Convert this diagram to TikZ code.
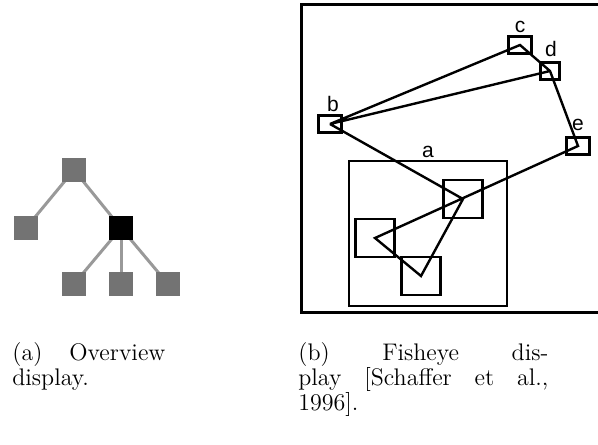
\documentclass[tikz,border=0pt]{standalone}
\usepackage{fontspec}
\usetikzlibrary{backgrounds}
\newfontfamily\labelfont{Liberation Sans}

\begin{document}
\begin{tikzpicture}[x=0.5pt,y=-0.5pt]
        \tikzstyle{every node}=[font=\fontsize{12}{12.5}\selectfont]
        \tikzstyle{treenode}=[draw=none,fill=black!55,minimum size=12pt,inner sep=0pt]
        \tikzstyle{treeedge}=[draw=black!40,line width=1.5pt]
        \tikzstyle{smallbox}=[draw,line width=1.2pt,minimum width=11.5pt,minimum height=8.5pt,inner sep=0pt]
        \tikzstyle{bigbox}=[draw,line width=1.2pt,minimum width=19.5pt,minimum height=19pt,inner sep=0pt]
        \tikzstyle{boxlabel}=[font=\labelfont\fontsize{10.5}{10.5}\selectfont,inner sep=0pt]
        \tikzstyle{fishline}=[line width=1.2pt,line join=miter]
        \useasboundingbox (0,0) rectangle (598,444);

        % (a) overview
        \node[treenode] (root) at (74,170) {};
        \node[treenode] (left) at (26,228) {};
        \node[treenode,fill=black] (focus) at (121,228) {};
        \node[treenode] (leafa) at (74,284) {};
        \node[treenode] (leafb) at (121,284) {};
        \node[treenode] (leafc) at (168,284) {};
        \begin{pgfonlayer}{background}
            \draw[treeedge] (root.center) -- (left.center);
            \draw[treeedge] (root.center) -- (focus.center);
            \draw[treeedge] (focus.center) -- (leafa.center);
            \draw[treeedge] (focus.center) -- (leafb.center);
            \draw[treeedge] (focus.center) -- (leafc.center);
        \end{pgfonlayer}

        % (b) fisheye
        \draw[line width=1.5pt] (600,5) -- (301,5) -- (301,312) -- (600,312);
        \node[draw,line width=1.2pt,minimum width=79pt,minimum height=72.5pt,inner sep=0pt] (area) at (428,233.5) {};
        \node[boxlabel,above] at (area.north) [yshift=1pt] {a};
        \node[smallbox] (b) at (330,124) {};
        \node[smallbox] (c) at (520,45) {};
        \node[smallbox,minimum width=9.5pt] (d) at (550,71) {};
        \node[smallbox] (e) at (578,146) {};
        \node[boxlabel] at (333,104) {b};
        \node[boxlabel] at (520,27) {c};
        \node[boxlabel] at (551,49) {d};
        \node[boxlabel] at (578,125) {e};
        \node[bigbox] (fa) at (463,199) {};
        \node[bigbox] (fb) at (375,238) {};
        \node[bigbox] (fc) at (421,276) {};
        \draw[fishline] (d.center) -- (b.center) -- (c.center) -- (d.center) -- (e.center)
            -- (fb.center) -- (fc.center) -- (fa.center) -- (b.center);

        % captions
        \node[anchor=north west,inner sep=0pt,text width=76.5pt] (capa) at (12,342)
            {(a)\hfill Overview\\ display.};
        \node[anchor=north west,inner sep=0pt,text width=125pt] (capb) at (298,342)
            {(b)\hfill Fisheye\hfill dis-\\ play\hfill [Schaffer\hfill et\hfill al.,\\ 1996].};
    \end{tikzpicture}
\end{document}
